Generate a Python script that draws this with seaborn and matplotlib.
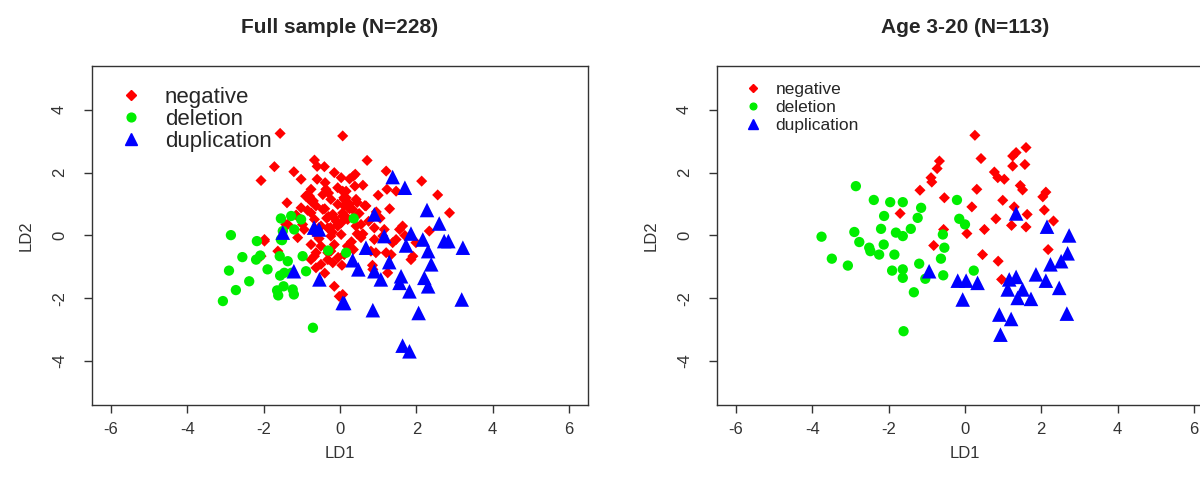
import pandas as pd
import matplotlib.pyplot as plt
import seaborn as sns

sns.set_theme(style="ticks")
plt.rcParams['font.family'] = ['Liberation Sans', 'DejaVu Sans']
plt.rcParams['axes.unicode_minus'] = False

# ---- Full sample (N=228) ----
full_neg_x = [-1.57, 0.07, -0.67, -0.41, -1.72, -1.21, -2.07, -1.02, -0.60, -0.39, 0.03, -0.76, -0.37, -0.06, 0.16,
              -1.39, -1.02, -0.76, -0.63, -0.24, -0.06, 0.11, -0.76, -0.45, -0.19, 0.07, 0.20, -0.67, -0.94, -0.67,
              -0.32, -0.06, -0.24, 0.03, -0.76, -0.50, -0.15, 0.20, -1.98, -1.42, -0.32, 0.11, -0.67,
              0.71, 1.21, 2.14, 2.56, 2.87, 0.35, 0.39, 1.00, 1.23, 1.47, 0.07, 0.16, 0.42, 0.68, 0.33, 0.07, 0.42,
              0.90, 1.16, 1.56, 1.64, 2.34, 0.55, 0.90, 1.38, 0.20, 0.81, 1.21, 1.99, 1.91, 0.55, 1.12, 1.47,
              0.94, 1.34, 1.86, 0.86, 1.25, 0.07, -1.98, -1.63, -2.07, -1.11, -0.63, -0.76, -0.50, -0.32, -0.19,
              -0.63, -0.24, -0.15, -0.02, -0.98, -0.50, 0.03, -1.37, -0.58, -0.30, -0.10, 0.50, 0.25, -0.45,
              -0.85, 0.60, 0.30, -0.20, 0.10, -0.55, 0.45, 0.75, 1.05, -0.35, -0.90, 0.15, 0.35, -0.15, -0.70,
              0.60, 0.95, 1.30, -1.15, -0.40, 0.05, 0.85, -0.05, -0.25, 0.40, 1.70, -0.85, -0.60, 0.25,
              -0.40, -0.15, 0.25, -0.55, -0.05, 0.45, -0.30, 0.10, -0.80, 0.65]
full_neg_y = [3.25, 3.17, 2.40, 2.19, 2.19, 2.03, 1.75, 1.79, 1.79, 1.68, 1.84, 1.47, 1.47, 1.52, 1.41,
              1.04, 0.88, 1.09, 0.94, 1.15, 0.99, 1.15, 0.72, 0.83, 0.67, 0.72, 0.51, 0.51, 0.19, 0.09,
              0.24, 0.30, -0.02, 0.03, -0.29, -0.34, -0.29, -0.34, -0.13, 0.35, -0.55, -0.61, -0.66,
              2.39, 2.05, 1.73, 1.29, 0.72, 1.89, 1.57, 1.28, 1.47, 1.41, 1.41, 1.20, 1.15, 0.94, 0.83, 0.62, 0.30,
              0.24, 0.19, 0.19, 0.30, 0.14, -0.07, -0.13, -0.23, -0.34, -0.50, -0.55, -0.23, -0.66, 0.35, -0.02, -0.13,
              -0.55, -0.61, -0.77, -1.08, -1.19, -1.88, -0.18, -0.50, -0.66, -0.07, -0.55, -0.77, -0.92, -0.77, -0.87,
              -1.03, -0.50, -1.62, -1.94, 0.35, 0.30, 0.40, 0.35, 0.03, 0.60, 0.45, 0.70, 1.00, 1.30,
              0.80, 0.05, -0.20, 0.10, 0.95, -0.10, 1.05, 0.45, 0.55, 0.55, 1.25, 0.60, -0.45, 2.00, 1.10,
              1.60, 0.75, 0.85, 0.65, -1.20, -0.95, -0.95, -0.70, 0.25, 1.95, 0.00, 1.30, 2.20, 1.80,
              0.85, 0.55, 0.85, 0.25, 0.35, 0.05, 1.35, 1.20, 1.25, 0.95]
full_del_x = [-2.86, -2.18, -1.52, -2.56, -2.20, -2.09, -1.90, -2.91, -2.38, -2.73, -3.07, -1.58, -1.37,
              -0.98, -1.57, -1.46, -1.27, -0.89, -1.65, -1.48, -1.24, -1.62, -1.21, -0.71, -0.31,
              -1.55, -1.28, -1.02, -1.50, -1.20, -1.55, 0.36, 0.16]
full_del_y = [0.01, -0.18, -0.15, -0.69, -0.77, -0.64, -1.08, -1.12, -1.46, -1.74, -2.09, -0.66, -0.82,
              -0.66, -1.28, -1.19, -1.19, -1.14, -1.75, -1.62, -1.72, -1.91, -1.88, -2.94, -0.48,
              0.54, 0.62, 0.51, 0.14, 0.19, -0.13, 0.54, -0.55]
full_dup_x = [-1.50, -0.68, -0.55, -1.21, -0.54, 0.07, 1.38, 1.70, 0.90, 2.28, 2.60, 1.86, 2.17, 2.73, 2.84,
              3.22, 1.73, 1.16, 0.68, 2.31, 0.33, 0.48, 0.90, 1.07, 1.29, 2.39, 1.60, 1.56, 1.82, 2.21,
              2.31, 3.19, 0.11, 0.86, 2.06, 1.64, 1.82]
full_dup_y = [0.09, 0.25, 0.19, -1.14, -1.40, -2.15, 1.86, 1.52, 0.67, 0.81, 0.38, 0.06, -0.13, -0.18, -0.18,
              -0.39, -0.32, -0.02, -0.39, -0.50, -0.79, -1.08, -1.14, -1.40, -0.85, -0.92, -1.30, -1.51, -1.78, -1.35,
              -1.62, -2.04, -2.15, -2.38, -2.47, -3.51, -3.69]

# ---- Age 3-20 (N=113) ----
age_neg_x = [-0.67, -0.73, -0.89, -0.87, -1.18, -0.54, -1.70, -0.56, -0.82,
             0.26, 1.60, 1.34, 1.25, 0.42, 1.57, 1.25, 0.77, 0.86, 1.03, 1.45, 1.51, 0.31, 2.12, 2.04,
             0.99, 0.18, 2.08, 1.29, 1.63, 0.81, 2.32, 1.22, 1.60, 0.51, 0.05, 2.18, 0.46, 0.87, 0.96]
age_neg_y = [2.37, 2.13, 1.84, 1.70, 1.44, 1.20, 0.70, 0.19, -0.32,
             3.19, 2.80, 2.64, 2.53, 2.45, 2.26, 2.21, 2.02, 1.84, 1.79, 1.59, 1.45, 1.47, 1.38, 1.23,
             1.12, 0.91, 0.81, 0.91, 0.67, 0.53, 0.46, 0.32, 0.27, 0.19, 0.06, -0.45, -0.61, -0.82, -1.40]
age_del_x = [-2.86, -2.39, -1.96, -1.63, -1.15, -2.12, -1.24, -0.21, -0.15, -2.20, -1.42, -1.81, -1.63,
             -2.90, -3.76, -2.77, -2.51, -2.13, -0.58, -0.54, -3.49, -2.25, -1.85, -2.48, -3.07, -1.91,
             -1.63, -1.63, -1.20, -1.04, -1.34, -1.61, -0.63, -0.57, 0.00, 0.23]
age_del_y = [1.57, 1.13, 1.06, 1.06, 0.88, 0.62, 0.56, 1.13, 0.53, 0.21, 0.21, 0.09, -0.02,
             0.11, -0.04, -0.21, -0.39, -0.29, 0.03, -0.39, -0.74, -0.61, -0.61, -0.50, -0.96, -1.12,
             -1.08, -1.35, -0.90, -1.38, -1.81, -3.05, -0.74, -1.27, 0.35, -1.12]
age_dup_x = [1.34, 2.15, 2.73, 2.69, 2.24, 2.52, 1.86, 2.12, 2.47, -0.19, 0.03, 0.33, -0.06, 1.16, 1.34,
             1.12, 1.51, 1.38, 1.73, 0.90, 1.21, 0.93, 2.67, -0.94]
age_dup_y = [0.70, 0.28, 0.00, -0.57, -0.92, -0.82, -1.24, -1.44, -1.67, -1.44, -1.44, -1.51, -2.04, -1.40, -1.32,
             -1.72, -1.72, -1.99, -2.02, -2.52, -2.66, -3.16, -2.49, -1.14]

groups = ['negative', 'deletion', 'duplication']
colors = {'negative': '#ff0000', 'deletion': '#00ee00', 'duplication': '#0000ff'}
markers = {'negative': 'D', 'deletion': 'o', 'duplication': '^'}
msize = {'negative': 32, 'deletion': 55, 'duplication': 110}


def make_df(neg, dele, dup):
    parts = []
    for g, (xs, ys) in zip(groups, [neg, dele, dup]):
        parts.append(pd.DataFrame({'LD1': xs, 'LD2': ys, 'group': g}))
    return pd.concat(parts, ignore_index=True)


df_full = make_df((full_neg_x, full_neg_y), (full_del_x, full_del_y), (full_dup_x, full_dup_y))
df_age = make_df((age_neg_x, age_neg_y), (age_del_x, age_del_y), (age_dup_x, age_dup_y))

fig = plt.figure(figsize=(12, 4.9), dpi=100)
ax1 = fig.add_axes([0.0767, 0.1735, 0.4133, 0.692])
ax2 = fig.add_axes([0.5975, 0.1735, 0.4133, 0.692])


def panel(ax, df, title, leg_fs, leg_anchor, scale, textpad, spacing):
    for g in groups:
        sub = df[df['group'] == g]
        sns.scatterplot(data=sub, x='LD1', y='LD2', ax=ax, color=colors[g], marker=markers[g],
                        s=msize[g], edgecolor='none', linewidth=0, label=g, legend=False)
    ax.set_xlim(-6.5, 6.5)
    ax.set_ylim(-5.4, 5.4)
    ax.set_xticks([-6, -4, -2, 0, 2, 4, 6])
    ax.set_yticks([-4, -2, 0, 2, 4])
    ax.tick_params(axis='both', direction='out', length=6, width=1, colors='#333333',
                   labelsize=12, labelcolor='#333333')
    ax.tick_params(axis='x', pad=6)
    ax.tick_params(axis='y', pad=12)
    for lab in ax.get_yticklabels():
        lab.set_rotation(90)
        lab.set_va('center')
    for sp in ax.spines.values():
        sp.set_visible(True)
        sp.set_color('#333333')
        sp.set_linewidth(1)
    ax.set_xlabel('LD1', fontsize=12, color='#333333', labelpad=7)
    ax.set_ylabel('LD2', fontsize=12, color='#333333', labelpad=13)
    ax.set_title(title, fontsize=15, fontweight='bold', pad=23.5)
    handles = []
    for g in groups:
        handles.append(plt.Line2D([], [], linestyle='none', marker=markers[g], color=colors[g],
                                  markersize=(msize[g] ** 0.5) * scale, label=g))
    ax.legend(handles=handles, loc='upper left', bbox_to_anchor=leg_anchor, frameon=False,
              fontsize=leg_fs, handletextpad=textpad,
              labelspacing=spacing, borderaxespad=0, handlelength=1.5)


panel(ax1, df_full, 'Full sample (N=228)', 16, (0.028, 0.965), 0.85, 0.75, 0.05)
panel(ax2, df_age, 'Age 3-20 (N=113)', 12.5, (0.032, 0.972), 0.65, 0.55, 0.15)

plt.savefig('out.png', dpi=100)
